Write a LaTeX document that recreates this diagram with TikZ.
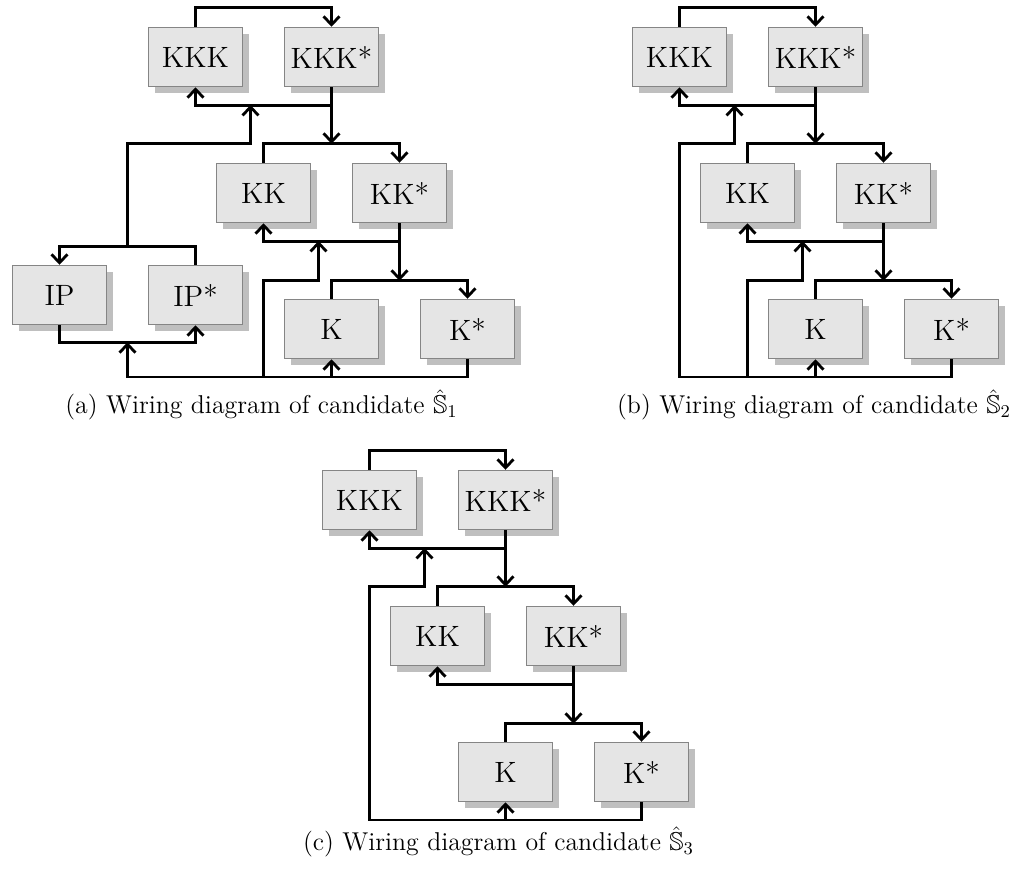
\documentclass[tikz,border=0pt]{standalone}
\usepackage{amssymb}
\usetikzlibrary{arrows.meta,shadows}

\tikzset{
  blk/.style={draw=black!48, line width=0.75pt, fill=black!10,
    minimum width=47pt, minimum height=29.5pt, inner sep=0pt,
    font=\fontsize{14.7}{17}\selectfont,
    drop shadow={shadow xshift=3pt, shadow yshift=-3pt, fill=black!25, opacity=1}},
  wire/.style={line width=1.4pt, line join=miter},
  feed/.style={wire, -{Straight Barb[length=4.2pt,width=8pt]}},
  caption/.style={font=\fontsize{12.9}{15}\selectfont, inner sep=0pt}
}

% The KKK -> KK -> K cascade shared by all three candidates (#1 = name prefix)
\newcommand\wirechain[1]{%
  \node[blk] (#1KKK)  at (195.5,57)  {KKK};
  \node[blk] (#1KKKs) at (331.5,57)  {KKK*};
  \node[blk] (#1KK)   at (263.5,193) {KK};
  \node[blk] (#1KKs)  at (399.5,193) {KK*};
  \node[blk] (#1K)    at (331.5,329) {K};
  \node[blk] (#1Ks)   at (467.5,329) {K*};
  \coordinate (#1j3) at (467.5,377);
  \coordinate (#1r1) at (250.5,105);
  \coordinate (#1r2) at (318.5,241);
  % forward links
  \draw[feed] (#1KKK.north) -- ++(0,-19) -| (#1KKKs.north);
  \draw[feed] (#1KK.north) -- ++(0,-19) coordinate (#1h1) -| (#1KKs.north);
  \draw[feed] (#1K.north) -- ++(0,-18) coordinate (#1h2) -| (#1Ks.north);
  % back links
  \draw[feed] (#1KKKs.south) -- ++(0,18) coordinate (#1j1) -| (#1KKK.south);
  \draw[feed] (#1KKs.south) -- ++(0,18) coordinate (#1j2) -| (#1KK.south);
  % cascade between levels
  \draw[feed] (#1j1) -- (#1j1 |- #1h1);
  \draw[feed] (#1j2) -- (#1j2 |- #1h2);
  % return into K
  \draw[feed] (#1K |- #1j3) -- (#1K.south);
}

\begin{document}
\begin{tikzpicture}[x=0.5pt, y=-0.5pt]
  \useasboundingbox (0,0) rectangle (1010,868);

  % ---------- candidate 1 ----------
  \begin{scope}
    \wirechain{a}
    \node[blk] (aIP)  at (59.5,295)  {IP};
    \node[blk] (aIPs) at (195.5,295) {IP*};
    \coordinate (amid) at (127.5,295);
    \draw[feed] (aIP.south) -- ++(0,17) coordinate (aipb) -| (aIPs.south);
    \draw[feed] (aIPs.north) -- ++(0,-18) coordinate (aipt) -| (aIP.north);
    \draw[feed] (aKs.south) -- (aj3) -| (amid |- aipb);
    \draw[feed] (amid |- aipt) |- (ar1 |- ah1) -- (ar1);
    \draw[feed] (aKK |- aj3) |- (ar2 |- ah2) -- (ar2);
  \end{scope}
  \node[caption] (capA) at (261.5,405) {(a) Wiring diagram of candidate $\hat{\mathbb{S}}_1$};

  % ---------- candidate 2 ----------
  \begin{scope}[shift={(484,0)}]
    \wirechain{b}
    \draw[feed] (bKs.south) -- (bj3) -| (bKKK |- bh1) -- (br1 |- bh1) -- (br1);
    \draw[feed] (bKK |- bj3) |- (br2 |- bh2) -- (br2);
  \end{scope}
  \node[caption] (capB) at (814,405) {(b) Wiring diagram of candidate $\hat{\mathbb{S}}_2$};

  % ---------- candidate 3 ----------
  \begin{scope}[shift={(174,443)}]
    \wirechain{c}
    \draw[feed] (cKs.south) -- (cj3) -| (cKKK |- ch1) -- (cr1 |- ch1) -- (cr1);
  \end{scope}
  \node[caption] (capC) at (498.5,842) {(c) Wiring diagram of candidate $\hat{\mathbb{S}}_3$};
\end{tikzpicture}
\end{document}
